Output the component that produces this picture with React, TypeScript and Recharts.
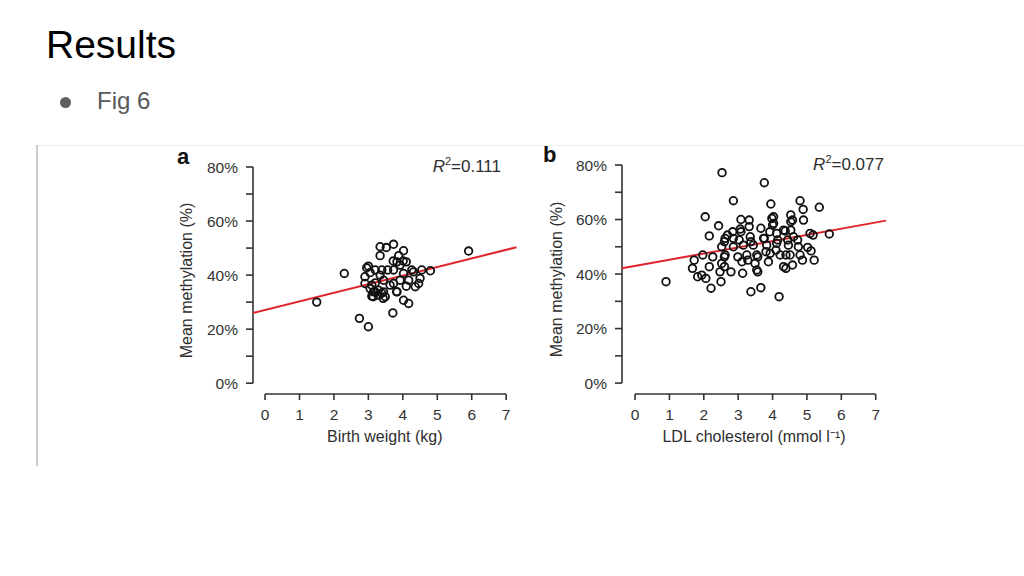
import React from 'react';
import { ScatterChart, Scatter, XAxis, YAxis, ReferenceLine } from 'recharts';

const FONT = '"Liberation Sans", Arial, Helvetica, sans-serif';

// Panel a: birth weight (kg) vs mean methylation (%)
const birthX = [1.5, 2.3, 2.74, 3.0, 5.91, 3.34, 3.52, 3.73, 3.34, 4.02, 3.88, 4.1, 3.83, 3.73, 3.92, 3.0, 3.2, 3.39, 3.56, 3.05, 2.9, 3.34, 4.02, 4.31, 4.55, 4.8, 4.5, 4.46, 4.36, 4.17, 3.92, 3.73, 4.1, 2.9, 3.2, 3.44, 3.05, 3.15, 3.29, 3.1, 3.29, 3.49, 3.44, 3.83, 3.63, 4.02, 4.17, 3.71, 3.1, 2.95, 3.72, 4.01, 4.26, 3.19, 3.39, 3.14, 3.43, 3.82];
const birthY = [30, 40.6, 24, 20.9, 48.9, 50.5, 50.2, 51.4, 47.2, 49, 47.2, 44.9, 44.9, 41.9, 43.7, 43.3, 41.9, 41.9, 41.9, 40.9, 39.4, 40, 40.6, 41.2, 41.9, 41.6, 38.8, 36.9, 35.7, 38.1, 38.1, 36.9, 35.9, 36.9, 37.1, 38.1, 35, 33.8, 34.4, 32.2, 32.6, 32, 33.8, 33.8, 36.3, 30.7, 29.5, 26, 36.3, 42.7, 45.2, 45.2, 41.9, 33.9, 33.3, 32, 31.4, 33.9];

// Panel b: LDL cholesterol (mmol/l) vs mean methylation (%)
const ldlX = [2.53, 3.76, 2.86, 3.95, 4.8, 4.89, 5.36, 2.04, 2.43, 2.16, 3.08, 3.32, 4.03, 4.53, 4.58, 4.9, 4.03, 3.32, 3.66, 4.32, 4.53, 2.84, 3.08, 2.69, 3.92, 5.18, 5.65, 2.6, 3.03, 3.37, 3.76, 4.15, 4.44, 4.73, 5.02, 5.12, 1.97, 2.26, 2.6, 2.99, 3.28, 3.57, 3.81, 4.1, 4.39, 4.87, 5.21, 1.72, 1.67, 2.16, 2.6, 2.79, 3.13, 3.57, 4.39, 4.58, 1.82, 2.06, 2.5, 0.9, 2.21, 3.37, 3.66, 4.19, 3.06, 3.98, 4.0, 4.53, 5.09, 2.62, 2.86, 3.35, 3.74, 4.12, 4.37, 4.61, 2.52, 2.86, 3.15, 3.44, 3.83, 4.12, 4.46, 4.75, 2.62, 3.25, 3.54, 3.93, 4.22, 4.51, 4.8, 2.52, 3.11, 3.49, 3.88, 4.32, 3.54, 1.94, 2.47];
const ldlY = [77.2, 73.5, 66.9, 65.7, 66.9, 63.7, 64.5, 61, 57.7, 54, 60, 59.8, 61, 61.7, 59.8, 59.8, 58.6, 57.4, 56.8, 56.1, 56.1, 55.5, 55.5, 54.3, 55.5, 54.3, 54.7, 51.9, 52.5, 51.9, 53.1, 52.5, 52.5, 52.5, 49.8, 48.5, 47, 46.3, 46.3, 46.3, 45.1, 46.3, 48.2, 48.8, 47, 45.1, 45.1, 45.1, 42.1, 42.7, 42.7, 40.8, 40.3, 40.8, 42.1, 43.3, 39, 38.4, 37.2, 37.2, 34.8, 33.5, 35, 31.7, 56.5, 60.4, 58, 59.2, 54.9, 53.1, 53.1, 53.7, 53.1, 54.9, 55.8, 53.7, 50, 50, 50.6, 50.6, 50.6, 51.3, 50.6, 50, 47, 47, 47, 47.6, 47, 47, 47, 43.9, 44.5, 43.9, 44.5, 42.7, 41.5, 39.6, 40.8];

// fitted regression line endpoints
const fitA = [{ x: -0.35, y: 26.0 }, { x: 7.3, y: 50.3 }];
const fitB = [{ x: -0.38, y: 42.1 }, { x: 7.3, y: 59.6 }];

const xTicks = [0, 1, 2, 3, 4, 5, 6, 7];
const yTicks = [0, 10, 20, 30, 40, 50, 60, 70, 80];

const pointsA = birthX.map((x, i) => ({ x, y: birthY[i] }));
const pointsB = ldlX.map((x, i) => ({ x, y: ldlY[i] }));

const AXIS = '#333333';
const TICK_STYLE = { fontSize: 15.5, fill: '#333333', fontFamily: FONT };
const LABEL_STYLE = { fontSize: 16, fill: '#2e2e2e', fontFamily: FONT };

const Ring = (props: any) => (
  <circle cx={props.cx} cy={props.cy} r={3.8} fill="none" stroke="#111111" strokeWidth={1.8} />
);

function Panel(props: {
  data: { x: number; y: number }[];
  fit: { x: number; y: number }[];
  xMin: number;
  xLabel: string;
  marginTop: number;
  yWidth: number;
  marginRight: number;
}) {
  const { data, fit, xMin, xLabel, marginTop, yWidth, marginRight } = props;
  return (
    <ScatterChart
      width={380}
      height={320}
      margin={{ top: marginTop, right: marginRight, bottom: 18, left: 0 }}
    >
      <XAxis
        type="number"
        dataKey="x"
        domain={[xMin, 7.3]}
        ticks={xTicks}
        interval={0}
        axisLine={false}
        tickLine={{ stroke: AXIS, strokeWidth: 1.6 }}
        tickSize={6}
        tickMargin={9}
        tick={TICK_STYLE}
        height={48}
        label={{ value: xLabel, position: 'insideBottom', offset: 0, style: LABEL_STYLE }}
      />
      <YAxis
        type="number"
        dataKey="y"
        domain={[-4, 80]}
        ticks={yTicks}
        interval={0}
        axisLine={false}
        tickLine={{ stroke: AXIS, strokeWidth: 1.6 }}
        tickSize={7}
        tickMargin={8}
        tick={TICK_STYLE}
        tickFormatter={(v: number) => (v % 20 === 0 ? `${v}%` : '')}
        width={yWidth}
        label={{ value: 'Mean methylation (%)', angle: -90, position: 'insideLeft', offset: 26, style: { ...LABEL_STYLE, textAnchor: 'middle' } }}
      />
      <ReferenceLine segment={[{ x: 0, y: -4 }, { x: 7, y: -4 }]} stroke={AXIS} strokeWidth={1.6} ifOverflow="visible" />
      <ReferenceLine segment={[{ x: xMin, y: 0 }, { x: xMin, y: 80 }]} stroke={AXIS} strokeWidth={1.6} ifOverflow="visible" />
      <Scatter data={data} shape={Ring} isAnimationActive={false} />
      <ReferenceLine segment={fit} stroke="#e0242c" strokeWidth={2} ifOverflow="visible" />
    </ScatterChart>
  );
}

const abs = (left: number, top: number): React.CSSProperties => ({ position: 'absolute', left, top });

export default function App() {
  return (
    <div style={{ position: 'absolute', left: 0, top: 0, width: 1024, height: 576, background: '#fff', overflow: 'hidden', fontFamily: FONT }}>
      <div style={{ ...abs(46, 25), fontSize: 39, lineHeight: 1, color: '#000' }}>Results</div>
      <div style={{ ...abs(60, 96.5), width: 11, height: 11, borderRadius: '50%', background: '#5f5f5f' }} />
      <div style={{ ...abs(97, 89), fontSize: 24, lineHeight: 1, color: '#595959' }}>Fig 6</div>

      <div style={{ ...abs(38, 145), width: 986, height: 1, background: '#eeeeee' }} />
      <div style={{ ...abs(36, 145), width: 2, height: 321, background: '#cccccc' }} />

      <div style={abs(160, 140)}>
        <Panel data={pointsA} fit={fitA} xMin={-0.35} xLabel="Birth weight (kg)" marginTop={27} yWidth={93} marginRight={23.5} />
      </div>
      <div style={abs(530, 140)}>
        <Panel data={pointsB} fit={fitB} xMin={-0.38} xLabel="LDL cholesterol (mmol l⁻¹)" marginTop={25} yWidth={92} marginRight={24} />
      </div>

      <div style={{ ...abs(177, 146), fontSize: 22, fontWeight: 'bold', lineHeight: 1, color: '#111' }}>a</div>
      <div style={{ ...abs(543, 144), fontSize: 22, fontWeight: 'bold', lineHeight: 1, color: '#111' }}>b</div>

      <div style={{ position: 'absolute', right: 1024 - 501, top: 156, fontSize: 17, lineHeight: 1, color: '#2e2e2e', whiteSpace: 'nowrap' }}>
        <i>R</i><sup style={{ fontSize: 11 }}>2</sup>=0.111
      </div>
      <div style={{ position: 'absolute', right: 1024 - 884, top: 154, fontSize: 17, lineHeight: 1, color: '#2e2e2e', whiteSpace: 'nowrap' }}>
        <i>R</i><sup style={{ fontSize: 11 }}>2</sup>=0.077
      </div>
    </div>
  );
}
